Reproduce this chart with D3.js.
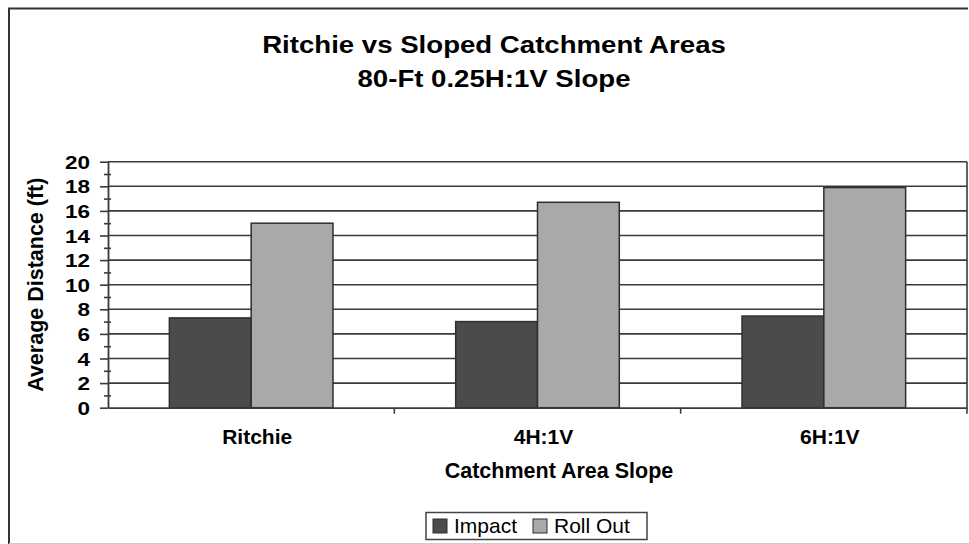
<!DOCTYPE html>
<html lang="en">
<head>
    <meta charset="UTF-8">
    <title>Ritchie vs Sloped Catchment Areas</title>
    <script src="https://d3js.org/d3.v7.min.js"></script>
    <style>
        body {
            margin: 0;
            background-color: #fff;
        }
        svg {
            display: block;
        }
        text {
            font-family: "Liberation Sans", Arial, sans-serif;
            fill: #000;
        }
    </style>
</head>
<body>
    <script>
        // Data
        const categories = ["Ritchie", "4H:1V", "6H:1V"];
        const series = ["Impact", "Roll Out"];
        const impact = [7.3, 7.0, 7.45];
        const rollOut = [15.0, 16.7, 17.9];
        const yTicks = [0, 2, 4, 6, 8, 10, 12, 14, 16, 18, 20];
        const yMinorTicks = [1, 3, 5, 7, 9, 11, 13, 15, 17, 19];
        const colors = ["#4b4b4b", "#a9a9a9"];

        const data = categories.map(function(c, i) {
            return {cat: c, values: [impact[i], rollOut[i]]};
        });

        const W = 969, H = 544;
        const plot = {left: 108, right: 967, top: 161.7, bottom: 407.7};

        const svg = d3.select("body").append("svg")
            .attr("width", W)
            .attr("height", H);

        // outer frame
        svg.append("path")
            .attr("d", "M9,544 L9,8.5 L968,8.5")
            .attr("fill", "none")
            .attr("stroke", "#333")
            .attr("stroke-width", 2);
        svg.append("line")
            .attr("x1", 9).attr("x2", 969)
            .attr("y1", 543.5).attr("y2", 543.5)
            .attr("stroke", "#ccc")
            .attr("stroke-width", 1);

        // scales
        const x0 = d3.scaleBand().domain(categories).range([plot.left, plot.right]);
        const x1 = d3.scaleBand().domain(series).range([0, x0.bandwidth()]).paddingOuter(0.75);
        const y = d3.scaleLinear().domain([0, 20]).range([plot.bottom, plot.top]);

        // gridlines
        svg.append("g")
            .selectAll("line")
            .data(yTicks.filter(function(d) { return d > 0; }))
            .enter().append("line")
            .attr("x1", plot.left).attr("x2", plot.right)
            .attr("y1", function(d) { return y(d); })
            .attr("y2", function(d) { return y(d); })
            .attr("stroke", "#3a3a3a")
            .attr("stroke-width", 1.6);

        // right border of plot
        svg.append("line")
            .attr("x1", plot.right).attr("x2", plot.right)
            .attr("y1", plot.top).attr("y2", plot.bottom)
            .attr("stroke", "#3a3a3a")
            .attr("stroke-width", 1.6);

        // bars
        svg.append("g")
            .selectAll("g")
            .data(data)
            .enter().append("g")
            .attr("transform", function(d) { return "translate(" + x0(d.cat) + ",0)"; })
            .selectAll("rect")
            .data(function(d) { return d.values.map(function(v, i) { return {s: series[i], v: v, i: i}; }); })
            .enter().append("rect")
            .attr("x", function(d) { return x1(d.s); })
            .attr("y", function(d) { return y(d.v); })
            .attr("width", x1.bandwidth())
            .attr("height", function(d) { return y(0) - y(d.v); })
            .attr("fill", function(d) { return colors[d.i]; })
            .attr("stroke", "#2e2e2e")
            .attr("stroke-width", 1.5);

        // y axis minor ticks
        svg.append("g")
            .attr("transform", "translate(" + (plot.left + 3) + ",0)")
            .call(d3.axisLeft(y).tickValues(yMinorTicks).tickSize(7).tickFormat(""))
            .call(function(g) {
                g.select(".domain").remove();
                g.selectAll("line").attr("stroke", "#3a3a3a").attr("stroke-width", 1.6);
            });

        // y axis major ticks + labels
        const yAxis = svg.append("g")
            .attr("transform", "translate(" + plot.left + ",0)")
            .call(d3.axisLeft(y).tickValues(yTicks).tickSize(8).tickSizeOuter(0).tickPadding(0).tickFormat(d3.format("d")));
        yAxis.select(".domain").attr("stroke", "#3a3a3a").attr("stroke-width", 1.8);
        yAxis.selectAll("line").attr("stroke", "#3a3a3a").attr("stroke-width", 1.6);
        yAxis.selectAll("text")
            .attr("x", null).attr("dy", null)
            .attr("transform", "translate(-18,6.5) scale(1.25,1)")
            .style("font-size", "18px")
            .style("font-weight", "bold");

        // x axis
        const xAxis = svg.append("g")
            .attr("transform", "translate(0," + plot.bottom + ")")
            .call(d3.axisBottom(x0).tickSize(0).tickSizeOuter(0).tickPadding(0));
        xAxis.select(".domain").attr("stroke", "#3a3a3a").attr("stroke-width", 1.8);
        xAxis.selectAll("text")
            .attr("y", null).attr("dy", null)
            .attr("transform", "translate(6,36.5)")
            .style("font-size", "21px")
            .style("font-weight", "bold");

        // x axis boundary ticks
        svg.append("g")
            .selectAll("line")
            .data(categories)
            .enter().append("line")
            .attr("x1", function(d) { return x0(d) + x0.bandwidth(); })
            .attr("x2", function(d) { return x0(d) + x0.bandwidth(); })
            .attr("y1", plot.bottom)
            .attr("y2", plot.bottom + 6)
            .attr("stroke", "#3a3a3a")
            .attr("stroke-width", 1.6);

        // titles
        const title = svg.append("g")
            .attr("text-anchor", "middle")
            .style("font-weight", "bold");
        title.append("text")
            .attr("transform", "translate(494,53) scale(1.15,1)")
            .style("font-size", "24px")
            .text("Ritchie vs Sloped Catchment Areas");
        title.append("text")
            .attr("transform", "translate(494,87) scale(1.15,1)")
            .style("font-size", "24px")
            .text("80-Ft 0.25H:1V Slope");

        svg.append("text")
            .attr("x", 559).attr("y", 478)
            .attr("text-anchor", "middle")
            .style("font-size", "21.5px")
            .style("font-weight", "bold")
            .text("Catchment Area Slope");

        svg.append("text")
            .attr("transform", "translate(43," + ((plot.top + plot.bottom) / 2) + ") rotate(-90)")
            .attr("text-anchor", "middle")
            .style("font-size", "21.5px")
            .style("font-weight", "bold")
            .text("Average Distance (ft)");

        // legend
        const legend = svg.append("g").attr("transform", "translate(426,512.5)");
        legend.append("rect")
            .attr("width", 221).attr("height", 27)
            .attr("fill", "#fff")
            .attr("stroke", "#444")
            .attr("stroke-width", 1.5);
        const legendX = [7, 107];
        series.forEach(function(s, i) {
            legend.append("rect")
                .attr("x", legendX[i]).attr("y", 6.5)
                .attr("width", 14).attr("height", 14)
                .attr("fill", colors[i])
                .attr("stroke", "#2e2e2e")
                .attr("stroke-width", 1);
            legend.append("text")
                .attr("x", legendX[i] + 21).attr("y", 20.5)
                .style("font-size", "21px")
                .text(s);
        });
    </script>
</body>
</html>
